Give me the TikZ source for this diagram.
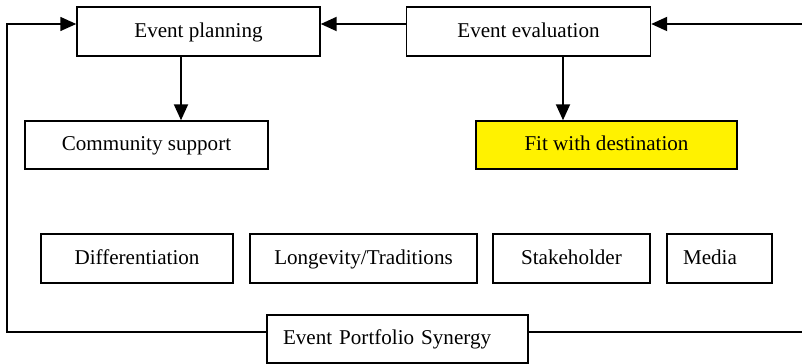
\documentclass[tikz,border=0pt]{standalone}
\usepackage{fontspec}
\setmainfont{Liberation Serif}
\usetikzlibrary{arrows.meta}

\begin{document}
\begin{tikzpicture}[x=0.02cm,y=-0.02cm,
    font=\fontsize{12}{14}\selectfont,
    box/.style={draw,line width=0.85pt,minimum height=0.98cm,inner sep=0pt,
      text height=1.85ex,text depth=0.4ex},
    lbox/.style={box,align=left,inner xsep=0.32cm},
    flow/.style={line width=1.2pt,-{Triangle[length=0.32cm,width=0.28cm]}}]
      \useasboundingbox (0,0) rectangle (802,364);
      \node[box,minimum width=4.86cm] (plan) at (198.5,31.5) {Event planning};
      \node[box,minimum width=4.88cm] (eval) at (528.5,31.5) {Event evaluation};
      \node[box,minimum width=4.86cm,minimum height=0.96cm] (comm) at (146.5,145) {Community support};
      \node[box,fill=yellow,minimum width=5.22cm,minimum height=0.96cm] (fit) at (606.5,145) {Fit with destination};
      \node[box,minimum width=3.84cm] (diff) at (137,258.5) {Differentiation};
      \node[box,minimum width=4.54cm] (long) at (363.5,258.5) {Longevity/Traditions};
      \node[box,minimum width=3.14cm] (stake) at (571.5,258.5) {Stakeholder};
      \node[lbox,text width=1.46cm] (media) at (719.5,258.5) {Media};
      \node[lbox,text width=4.58cm,minimum height=0.96cm] (syn) at (397.5,339) {Event Portfolio Synergy};
      % feedback loop
      \coordinate (tl) at (7,24);
      \coordinate (bl) at (7,332);
      \coordinate (tr) at (802,24);
      \coordinate (br) at (802,332);
      \draw[flow,line width=0.85pt] (syn.west |- bl) -- (bl) -- (tl) -- (plan.west |- tl);
      \draw[line width=0.85pt] (syn.east |- br) -- (br);
      \draw[flow] (tr) -- (eval.east |- tr);
      \draw[flow] (eval.west |- tl) -- (plan.east |- tl);
      \draw[flow] (plan.south -| 181,0) -- (comm.north -| 181,0);
      \draw[flow] (eval.south -| 563,0) -- (fit.north -| 563,0);
    \end{tikzpicture}
\end{document}
